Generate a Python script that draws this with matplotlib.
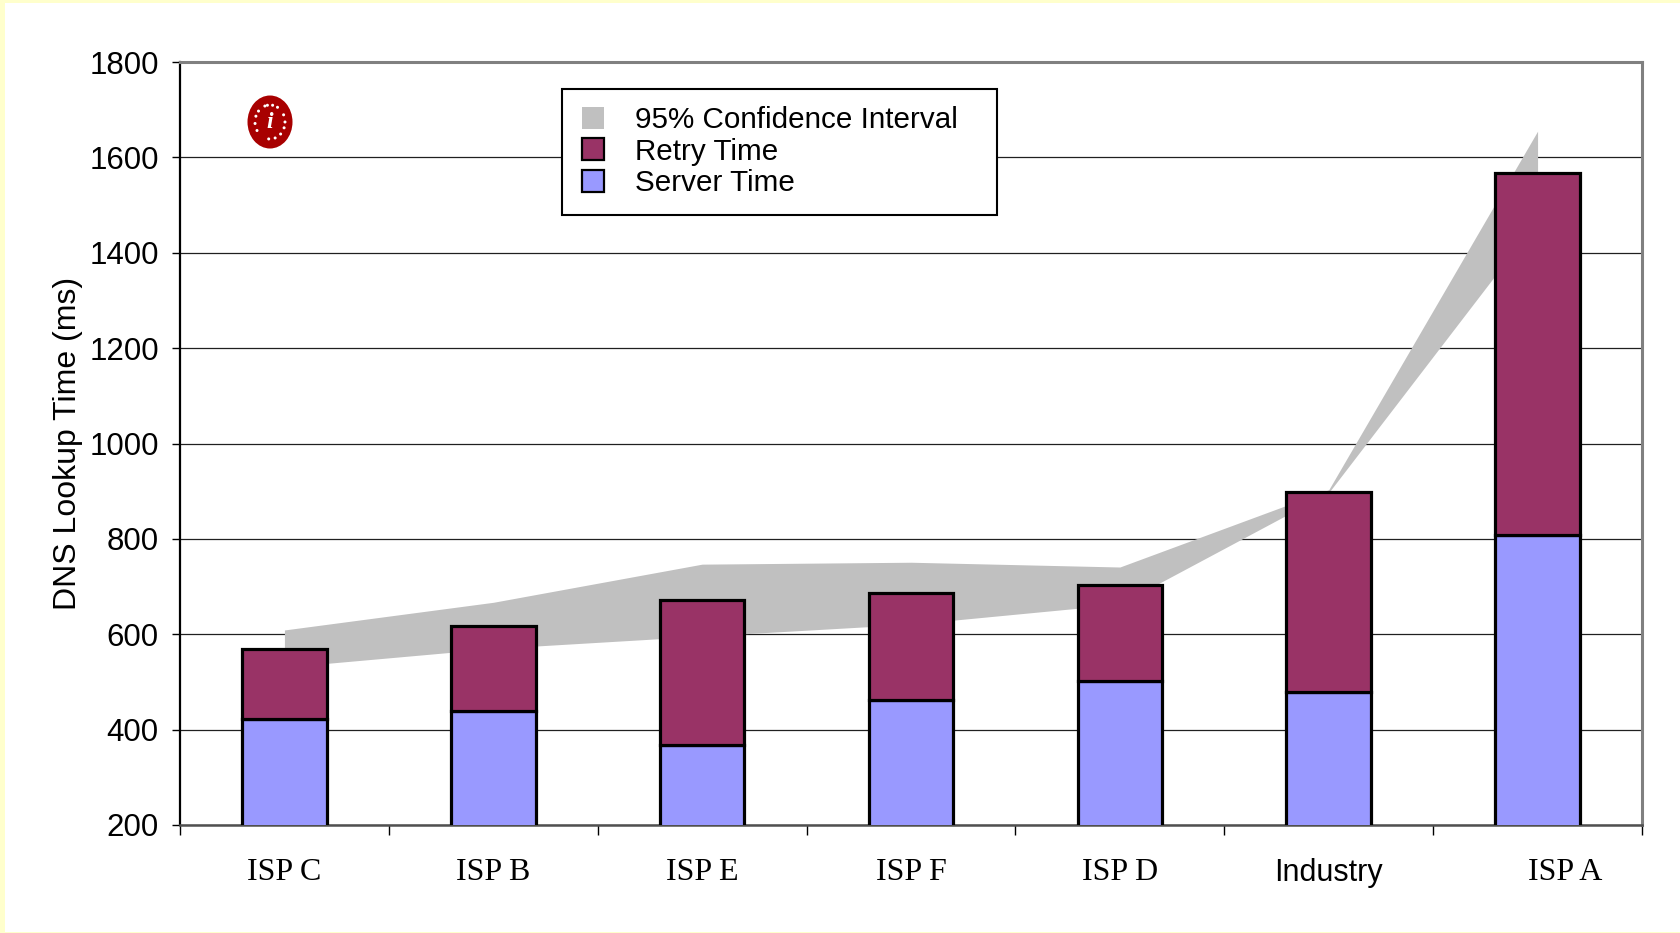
import matplotlib
matplotlib.use("Agg")
import matplotlib.pyplot as plt
from matplotlib.patches import Rectangle, Ellipse, Patch
from matplotlib.transforms import ScaledTranslation, blended_transform_factory
import numpy as np

# ---------------- data ----------------
categories = ["ISP C", "ISP B", "ISP E", "ISP F", "ISP D", "Industry", "ISP A"]
server_time = [422, 440, 368, 462, 502, 479, 809]
total_time = [569, 618, 671, 687, 703, 899, 1568]
retry_time = [t - s for t, s in zip(total_time, server_time)]
ci_upper = [609, 667, 747, 751, 741, 903, 1655]
ci_lower = [531, 570, 596, 621, 663, 897, 1468]
y_ticks = [200, 400, 600, 800, 1000, 1200, 1400, 1600, 1800]

legend_labels = ["95% Confidence Interval", "Retry Time", "Server Time"]

C_SERVER = "#9999FF"
C_RETRY = "#993366"
C_BAND = "#C0C0C0"

W, H = 1680, 933
fig = plt.figure(figsize=(W / 100, H / 100), dpi=100)
fig.patch.set_facecolor("#FFFFCC")
fig.patches.append(Rectangle((5 / W, 1 / H), (W - 5) / W, (H - 4) / H,
                             transform=fig.transFigure, facecolor="white",
                             edgecolor="none", zorder=-10))

left, right, top, bottom = 180, 1642, 62, 825
ax = fig.add_axes([left / W, (H - bottom) / H, (right - left) / W, (bottom - top) / H])
ax.set_facecolor("white")

x = np.arange(len(categories))
ax.fill_between(x, ci_lower, ci_upper, color=C_BAND, linewidth=0, zorder=1)

bw = 0.405
ax.bar(x, server_time, width=bw, color=C_SERVER, edgecolor="black", linewidth=2.3, zorder=3)
ax.bar(x, retry_time, width=bw, bottom=server_time, color=C_RETRY,
       edgecolor="black", linewidth=2.3, zorder=3)

ax.set_xlim(-0.5, len(categories) - 0.5)
ax.set_ylim(200, 1800)
ax.set_yticks(y_ticks)
ax.set_yticklabels([str(v) for v in y_ticks], fontsize=22.5, family="Liberation Sans")
ax.tick_params(axis="y", direction="out", length=8 * 0.72, width=1, pad=9.5, colors="black")

ax.set_axisbelow(True)
ax.yaxis.grid(True, color="#202020", linewidth=0.9)
ax.xaxis.grid(False)

# category labels (the last one sits slightly right of its category centre)
tick_labels = categories[:-1] + [""]
ax.set_xticks(x)
ax.set_xticklabels(tick_labels)
for lab, cat in zip(ax.get_xticklabels(), tick_labels):
    if cat == "Industry":
        lab.set_family("Liberation Sans")
        lab.set_fontsize(22)
    else:
        lab.set_family("Liberation Serif")
        lab.set_fontsize(23)
ax.tick_params(axis="x", which="major", length=0, pad=24)
ax.set_xticks(np.arange(-0.5, len(categories), 1.0), minor=True)
ax.tick_params(axis="x", which="minor", direction="out", length=10 * 0.72, width=1, colors="black")

trans_last = blended_transform_factory(ax.transData, ax.transAxes) + \
    ScaledTranslation(0.28, -(24 + 0) / 72, fig.dpi_scale_trans)
ax.text(x[-1], 0, categories[-1], transform=trans_last, ha="center", va="top",
        family="Liberation Serif", fontsize=23)

ax.set_ylabel("DNS Lookup Time (ms)", fontsize=23, family="Liberation Sans")
ax.yaxis.set_label_coords((83 - left) / (right - left), 0.5)

ax.spines["top"].set_color("#808080")
ax.spines["top"].set_linewidth(2.2)
ax.spines["right"].set_color("#808080")
ax.spines["right"].set_linewidth(2.2)
ax.spines["left"].set_color("black")
ax.spines["left"].set_linewidth(1.6)
ax.spines["bottom"].set_color("#505050")
ax.spines["bottom"].set_linewidth(1.8)

# legend frame
lx0, lx1, ly0, ly1 = 562, 997, 89, 215
fig.patches.append(Rectangle((lx0 / W, (H - ly1) / H), (lx1 - lx0) / W, (ly1 - ly0) / H,
                             transform=fig.transFigure, facecolor="white",
                             edgecolor="black", linewidth=1.5, zorder=5))
handles = [Patch(facecolor=C_BAND, edgecolor="none"),
           Patch(facecolor=C_RETRY, edgecolor="black", linewidth=1.6),
           Patch(facecolor=C_SERVER, edgecolor="black", linewidth=1.6)]
leg = fig.legend(handles, legend_labels, loc="upper left",
                 bbox_to_anchor=(582 / W, (H - 106) / H), frameon=False,
                 prop={"family": "Liberation Sans", "size": 21.3},
                 handlelength=0.75, handleheight=0.75, labelspacing=0.12,
                 handletextpad=1.05, borderpad=0, borderaxespad=0)
leg.set_zorder(6)

# logo
cx, cy = 270, H - 122
fig.patches.append(Ellipse((cx / W, cy / H), 45 / W, 53 / H, transform=fig.transFigure,
                           facecolor="#A80000", edgecolor="none", zorder=5))
angles = np.deg2rad([100, 80, 60, 140, 160, 185, 210, 25, 0, -20, -45, -70, -95, -250])
for a in angles:
    px = cx + 15 * np.cos(a)
    py = cy + 17 * np.sin(a)
    fig.patches.append(Ellipse((px / W, py / H), 3 / W, 3 / H, transform=fig.transFigure,
                               facecolor="white", edgecolor="none", zorder=6))
fig.text(cx / W, cy / H, "i", color="white", fontsize=17, family="Liberation Serif",
         style="italic", fontweight="bold", ha="center", va="center", zorder=7)

fig.savefig("out.png", dpi=100, facecolor=fig.get_facecolor())
